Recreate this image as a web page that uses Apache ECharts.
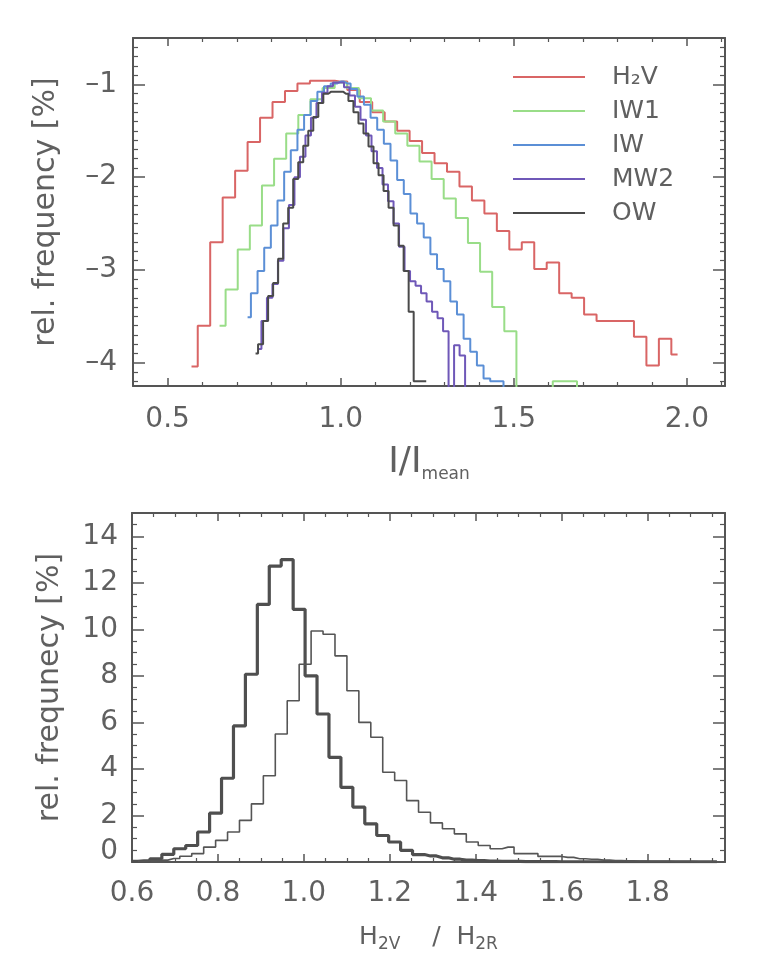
<!DOCTYPE html>
<html><head><meta charset="utf-8">
<script src="https://cdn.jsdelivr.net/npm/echarts@6/dist/echarts.min.js"></script>
<style>html,body{margin:0;padding:0;background:#fff}#c{width:771px;height:967px}</style>
</head><body><div id="c"></div>
<script>
// ---------- top panel: log10 relative frequency histograms (bin start = centre of first bin) ----------
const seriesNames = ['H\u2082V', 'IW1', 'IW', 'MW2', 'OW'];
const h2vStart = 0.569, h2vBin = 0.036;
const h2v = [-4.04,-3.60,-2.70,-2.22,-1.93,-1.62,-1.36,-1.19,-1.07,-0.99,-0.96,-0.96,-0.97,-1.06,-1.19,-1.30,-1.40,-1.50,-1.61,-1.74,-1.85,-1.94,-2.10,-2.25,-2.39,-2.58,-2.78,-2.70,-2.99,-2.92,-3.25,-3.30,-3.48,-3.55,-3.55,-3.55,-3.72,-4.03,-3.74,-3.91];
const iw1Start = 0.650, iw1Bin = 0.035;
const iw1 = [-3.60,-3.21,-2.78,-2.52,-2.09,-1.80,-1.53,-1.33,-1.16,-1.04,-0.98,-1.04,-1.15,-1.28,-1.40,-1.53,-1.66,-1.83,-2.02,-2.23,-2.44,-2.71,-3.02,-3.40,-3.66,-5,-5,-5,-4.2,-4.2,-5];
const iwStart = 0.731, iwBin = 0.0192;
const iw = [-3.51,-3.25,-3.01,-2.76,-2.52,-2.25,-1.94,-1.71,-1.49,-1.33,-1.18,-1.08,-1.02,-0.99,-0.97,-0.99,-1.05,-1.13,-1.22,-1.36,-1.49,-1.64,-1.82,-2.03,-2.18,-2.39,-2.50,-2.65,-2.83,-2.99,-3.12,-3.34,-3.48,-3.74,-3.88,-4.03,-4.17,-4.2,-4.2,-5];
const mw2Start = 0.763, mw2Bin = 0.0159;
const mw2 = [-3.85,-3.55,-3.30,-3.15,-2.90,-2.55,-2.30,-2.00,-1.78,-1.55,-1.36,-1.20,-1.09,-1.02,-0.98,-0.98,-1.03,-1.12,-1.24,-1.38,-1.55,-1.72,-1.90,-2.08,-2.26,-2.50,-2.75,-3.01,-3.12,-3.17,-3.25,-3.34,-3.45,-3.52,-3.66,-5,-3.81,-3.92,-5];
const owStart = 0.754, owBin = 0.0145;
const ow = [-3.90,-3.80,-3.55,-3.28,-3.14,-2.88,-2.50,-2.33,-2.02,-1.84,-1.66,-1.50,-1.35,-1.20,-1.10,-1.08,-1.08,-1.08,-1.10,-1.18,-1.30,-1.42,-1.53,-1.67,-1.85,-1.98,-2.15,-2.33,-2.52,-2.74,-3.01,-3.45,-4.2,-4.2,-4.2];

// ---------- bottom panel: relative frequency [%] of H2V/H2R ----------
const boldStart = 0.600, boldBin = 0.02778;
const bold = [0.03,0.05,0.14,0.33,0.57,0.71,1.29,2.1,3.6,5.85,8.07,11.07,12.72,13.0,10.86,8.0,6.36,4.5,3.21,2.36,1.64,1.14,0.86,0.5,0.32,0.26,0.18,0.12,0.08,0.06,0.04,0.03,0.03,0.02,0.02,0.02,0.01,0.01,0.01,0.01,0.01,0.01,0.01,0.01,0.01,0.01,0.01,0.01,0.01,0.01];
const thinStart = 0.614, thinBin = 0.02778;
const thin = [0.03,0.05,0.08,0.15,0.25,0.36,0.64,0.93,1.29,1.79,2.5,3.71,5.5,6.93,8.5,9.93,9.79,8.86,7.36,6.0,5.36,3.86,3.5,2.64,2.14,1.68,1.43,1.21,0.86,0.71,0.57,0.64,0.36,0.36,0.24,0.24,0.2,0.14,0.12,0.08,0.06,0.05,0.04,0.03,0.03,0.02,0.02,0.01,0.01,0.01];

function hist(start, bin, vals) { return vals.map((v, i) => [start + i * bin, v]); }

const FONT = 'DejaVu Sans';
const TXT = '#606060';
const FRAME = '#555';
const colors = ['#d96565', '#99dd88', '#5b8fd6', '#6f58b8', '#4a4a4a'];

function isMult(v, s) { return Math.abs(v / s - Math.round(v / s)) < 1e-6; }

function axis(base) {
  return Object.assign({
    type: 'value',
    axisLine: { show: true, onZero: false, lineStyle: { color: FRAME, width: 2 } },
    axisTick: { show: true, inside: true, lineStyle: { color: FRAME, width: 1.5 } },
    minorTick: { show: true, lineStyle: { color: FRAME, width: 1.2 } },
    splitLine: { show: false },
    minorSplitLine: { show: false },
  }, base);
}

const topX = { min: 0.4, max: 2.11, minInterval: 0.5, maxInterval: 0.5, splitNumber: 3 };
const topY = { min: -4.25, max: -0.5, minInterval: 1, maxInterval: 1, splitNumber: 4 };
const botX = { min: 0.6, max: 1.98, minInterval: 0.2, maxInterval: 0.2, splitNumber: 7 };
const botY = { min: 0, max: 15, minInterval: 2, maxInterval: 2, splitNumber: 7 };

const xAxes = [
  axis(Object.assign({ gridIndex: 0, position: 'bottom',
    axisTick: { show: true, inside: true, length: 8, lineStyle: { color: FRAME, width: 1.5 } },
    minorTick: { show: true, splitNumber: 5, length: 4, lineStyle: { color: FRAME, width: 1.2 } },
    axisLabel: { margin: 20, fontSize: 28, fontFamily: FONT, color: TXT,
      formatter: v => isMult(v, 0.5) ? v.toFixed(1) : '' },
    name: '{b|I/I}{s|mean}', nameLocation: 'middle', nameGap: 57,
    nameTextStyle: { rich: {
      b: { fontSize: 36, fontFamily: FONT, color: TXT, lineHeight: 40, verticalAlign: 'middle' },
      s: { fontSize: 17, fontFamily: FONT, color: TXT, lineHeight: 17, verticalAlign: 'bottom' } } }
  }, topX)),
  axis(Object.assign({ gridIndex: 0, position: 'top',
    axisTick: { show: true, inside: true, length: 8, lineStyle: { color: FRAME, width: 1.5 } },
    minorTick: { show: true, splitNumber: 5, length: 4, lineStyle: { color: FRAME, width: 1.2 } },
    axisLabel: { show: false } }, topX)),
  axis(Object.assign({ gridIndex: 1, position: 'bottom',
    axisTick: { show: true, inside: true, length: 8, lineStyle: { color: FRAME, width: 1.5 } },
    minorTick: { show: true, splitNumber: 4, length: 4, lineStyle: { color: FRAME, width: 1.2 } },
    axisLabel: { margin: 18, fontSize: 28, fontFamily: FONT, color: TXT,
      formatter: v => isMult(v, 0.2) ? v.toFixed(1) : '' },
    name: '{b|H}{s|2V}{b|    /  H}{s|2R}', nameLocation: 'middle', nameGap: 59,
    nameTextStyle: { rich: {
      b: { fontSize: 25, fontFamily: FONT, color: TXT, lineHeight: 32, verticalAlign: 'middle' },
      s: { fontSize: 17, fontFamily: FONT, color: TXT, lineHeight: 17, verticalAlign: 'bottom' } } }
  }, botX)),
  axis(Object.assign({ gridIndex: 1, position: 'top',
    axisTick: { show: true, inside: true, length: 8, lineStyle: { color: FRAME, width: 1.5 } },
    minorTick: { show: true, splitNumber: 4, length: 4, lineStyle: { color: FRAME, width: 1.2 } },
    axisLabel: { show: false } }, botX)),
];

const yAxes = [
  axis(Object.assign({ gridIndex: 0, position: 'left',
    axisTick: { show: true, inside: true, length: 12, lineStyle: { color: FRAME, width: 1.5 } },
    minorTick: { show: true, splitNumber: 10, length: 5, lineStyle: { color: FRAME, width: 1.2 } },
    axisLabel: { margin: 16, fontSize: 28, fontFamily: FONT, color: TXT,
      formatter: v => isMult(v, 1) ? '\u2013' + Math.abs(Math.round(v)) : '' },
    name: 'rel. frequency [%]', nameLocation: 'middle', nameGap: 72,
    nameTextStyle: { fontSize: 30, fontFamily: FONT, color: TXT }
  }, topY)),
  axis(Object.assign({ gridIndex: 0, position: 'right',
    axisTick: { show: true, inside: true, length: 12, lineStyle: { color: FRAME, width: 1.5 } },
    minorTick: { show: true, splitNumber: 10, length: 5, lineStyle: { color: FRAME, width: 1.2 } },
    axisLabel: { show: false } }, topY)),
  axis(Object.assign({ gridIndex: 1, position: 'left',
    axisTick: { show: true, inside: true, length: 12, lineStyle: { color: FRAME, width: 1.5 } },
    minorTick: { show: true, splitNumber: 4, length: 5, lineStyle: { color: FRAME, width: 1.2 } },
    axisLabel: { margin: 14, fontSize: 28, fontFamily: FONT, color: TXT,
      formatter: v => (Math.abs(v) < 1e-9) ? '{z|0}' : (isMult(v, 2) ? String(Math.round(v)) : ''),
      rich: { z: { fontSize: 28, fontFamily: FONT, color: TXT, padding: [0, 0, 20, 0] } } },
    name: 'rel. frequnecy [%]', nameLocation: 'middle', nameGap: 67,
    nameTextStyle: { fontSize: 30, fontFamily: FONT, color: TXT }
  }, botY)),
  axis(Object.assign({ gridIndex: 1, position: 'right',
    axisTick: { show: true, inside: true, length: 12, lineStyle: { color: FRAME, width: 1.5 } },
    minorTick: { show: true, splitNumber: 4, length: 5, lineStyle: { color: FRAME, width: 1.2 } },
    axisLabel: { show: false } }, botY)),
];

const topData = [hist(h2vStart, h2vBin, h2v), hist(iw1Start, iw1Bin, iw1), hist(iwStart, iwBin, iw),
                 hist(mw2Start, mw2Bin, mw2), hist(owStart, owBin, ow)];

const series = topData.map((d, i) => ({
  name: seriesNames[i], type: 'line', xAxisIndex: 0, yAxisIndex: 0, data: d,
  step: 'middle', symbol: 'none', showSymbol: false, clip: true, silent: true,
  lineStyle: { color: colors[i], width: 2 }, itemStyle: { color: colors[i] }
}));
series.push({ name: 'bold', type: 'line', xAxisIndex: 2, yAxisIndex: 2, data: hist(boldStart, boldBin, bold),
  step: 'middle', symbol: 'none', clip: true, silent: true, lineStyle: { color: '#4f4f4f', width: 3.2 } });
series.push({ name: 'thin', type: 'line', xAxisIndex: 2, yAxisIndex: 2, data: hist(thinStart, thinBin, thin),
  step: 'middle', symbol: 'none', clip: true, silent: true, lineStyle: { color: '#555', width: 1.6 } });

const chart = echarts.init(document.getElementById('c'), null, { renderer: 'canvas' });
chart.setOption({
  animation: false,
  backgroundColor: '#fff',
  grid: [
    { left: 133, top: 38, width: 592, height: 348 },
    { left: 132, top: 513, width: 593, height: 349 }
  ],
  legend: {
    data: seriesNames.map((n, i) => ({ name: n, icon: 'rect', itemStyle: { color: colors[i] } })),
    orient: 'vertical', left: 508, top: 59,
    itemWidth: 72, itemHeight: 2, itemGap: 8,
    textStyle: { fontSize: 25, fontFamily: FONT, color: TXT, lineHeight: 26, padding: [0, 0, 0, 22] },
    selectedMode: false
  },
  xAxis: xAxes,
  yAxis: yAxes,
  series: series
});
</script></body></html>
